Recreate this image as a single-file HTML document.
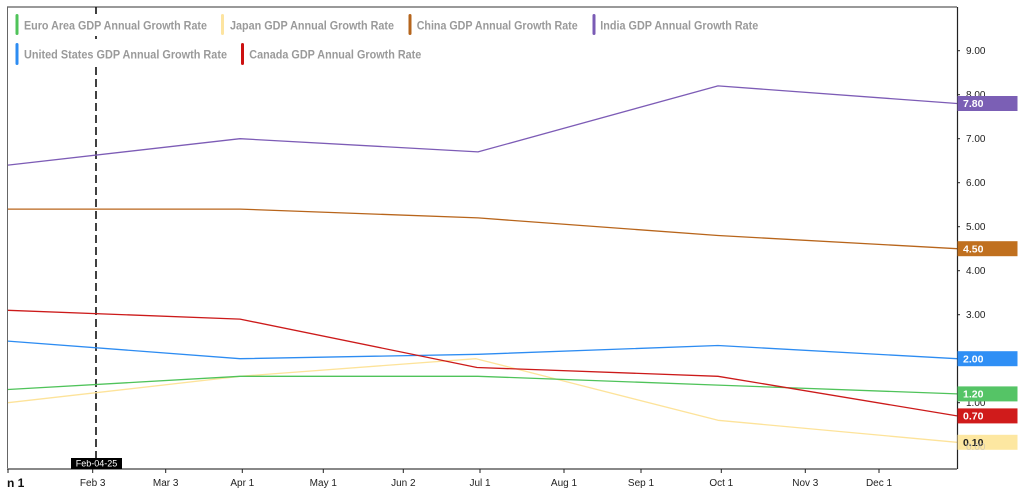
<!DOCTYPE html>
<html>
<head>
<meta charset="utf-8">
<style>
  html,body{margin:0;padding:0;background:#fff;}
  svg{display:block;font-family:"Liberation Sans",Arial,sans-serif;}
</style>
</head>
<body>
<svg width="1024" height="500" viewBox="0 0 1024 500" xmlns="http://www.w3.org/2000/svg">
  <rect x="0" y="0" width="1024" height="500" fill="#fff"/>

  <!-- frame -->
  <line x1="7" y1="7" x2="957" y2="7" stroke="#333" stroke-width="1"/>
  <line x1="7.5" y1="7" x2="7.5" y2="469" stroke="#666" stroke-width="1"/>

  <!-- dashed marker line -->
  <line x1="96" y1="7" x2="96" y2="468" stroke="#111" stroke-width="1.6" stroke-dasharray="8 4"/>

  <!-- legend backgrounds (cover dash) -->
  <rect x="14" y="14" width="196" height="22" fill="#fff"/>
  <rect x="14" y="43" width="216" height="22" fill="#fff"/>

  <!-- legend -->
  <g font-size="12" font-weight="bold" fill="#9a9a9a">
    <rect x="15.5" y="14" width="3" height="21" rx="1.5" fill="#4fc35a"/>
    <text x="24" y="29.3" textLength="183" lengthAdjust="spacingAndGlyphs">Euro Area GDP Annual Growth Rate</text>
    <rect x="221" y="14" width="3" height="21" rx="1.5" fill="#fde4a0"/>
    <text x="230" y="29.3" textLength="164" lengthAdjust="spacingAndGlyphs">Japan GDP Annual Growth Rate</text>
    <rect x="408.5" y="14" width="3" height="21" rx="1.5" fill="#b5651d"/>
    <text x="416.7" y="29.3" textLength="161" lengthAdjust="spacingAndGlyphs">China GDP Annual Growth Rate</text>
    <rect x="592.5" y="14" width="3" height="21" rx="1.5" fill="#7a5bb5"/>
    <text x="600.3" y="29.3" textLength="158" lengthAdjust="spacingAndGlyphs">India GDP Annual Growth Rate</text>
    <rect x="15.5" y="43" width="3" height="22" rx="1.5" fill="#2d8cf2"/>
    <text x="24" y="58.7" textLength="203" lengthAdjust="spacingAndGlyphs">United States GDP Annual Growth Rate</text>
    <rect x="241" y="43" width="3" height="22" rx="1.5" fill="#cc1111"/>
    <text x="249.3" y="58.7" textLength="172" lengthAdjust="spacingAndGlyphs">Canada GDP Annual Growth Rate</text>
  </g>

  <!-- series -->
  <g fill="none" stroke-width="1.3" stroke-linejoin="round">
    <polyline stroke="#7d5cb6" points="8,165.1 240,138.7 478,151.9 718,85.9 957,103.5"/>
    <polyline stroke="#b8651b" points="8,209.1 240,209.1 478,217.9 718,235.5 957,248.7"/>
    <polyline stroke="#2d8cf2" points="8,341.1 240,358.7 478,354.3 718,345.5 957,358.7"/>
    <polyline stroke="#fde39a" points="8,402.7 240,376.3 476,358.7 718,420.3 957,442.3"/>
    <polyline stroke="#4fc35a" points="8,389.5 240,376.3 478,376.3 718,385.1 957,393.9"/>
    <polyline stroke="#cc1a1a" points="8,310.3 240,319.1 477,367.5 718,376.3 957,415.9"/>
  </g>

  <!-- right axis -->
  <line x1="957.5" y1="7" x2="957.5" y2="469" stroke="#222" stroke-width="1.2"/>
  <g font-size="10" fill="#222">
    <line x1="957" y1="50.7" x2="960" y2="50.7" stroke="#222"/><text x="966" y="54.2">9.00</text>
    <line x1="957" y1="94.7" x2="960" y2="94.7" stroke="#222"/><text x="966" y="98.2">8.00</text>
    <line x1="957" y1="138.7" x2="960" y2="138.7" stroke="#222"/><text x="966" y="142.2">7.00</text>
    <line x1="957" y1="182.7" x2="960" y2="182.7" stroke="#222"/><text x="966" y="186.2">6.00</text>
    <line x1="957" y1="226.7" x2="960" y2="226.7" stroke="#222"/><text x="966" y="230.2">5.00</text>
    <line x1="957" y1="270.7" x2="960" y2="270.7" stroke="#222"/><text x="966" y="274.2">4.00</text>
    <line x1="957" y1="314.7" x2="960" y2="314.7" stroke="#222"/><text x="966" y="318.2">3.00</text>
    <line x1="957" y1="402.7" x2="960" y2="402.7" stroke="#222"/><text x="966" y="406.2">1.00</text>
  </g>

  <!-- value label boxes -->
  <g font-size="10.5" font-weight="bold" fill="#fff">
    <rect x="957.5" y="96" width="60" height="15" fill="#7b5fb5"/>
    <text x="963" y="107.2">7.80</text>
    <rect x="957.5" y="241.2" width="60" height="15" fill="#c0701f"/>
    <text x="963" y="252.4">4.50</text>
    <rect x="957.5" y="351.2" width="60" height="15" fill="#2f8ff5"/>
    <text x="963" y="362.4">2.00</text>
    <rect x="957.5" y="386.4" width="60" height="15" fill="#55c466"/>
    <text x="963" y="397.6">1.20</text>
    <rect x="957.5" y="408.4" width="60" height="15" fill="#d01b1b"/>
    <text x="963" y="419.6">0.70</text>
    <rect x="957.5" y="434.8" width="60" height="15" fill="#fde7a1"/>
    <text x="963" y="446" fill="#222">0.10</text>
  </g>
  <text x="966" y="450.2" font-size="10" fill="#bbb" opacity="0.6">0.00</text>

  <!-- bottom axis -->
  <line x1="7" y1="469" x2="957" y2="469" stroke="#888" stroke-width="2"/>
  <g stroke="#222" stroke-width="1">
    <line x1="8" y1="469" x2="8" y2="473"/>
    <line x1="92.7" y1="469" x2="92.7" y2="473"/>
    <line x1="165.7" y1="469" x2="165.7" y2="473"/>
    <line x1="242.3" y1="469" x2="242.3" y2="473"/>
    <line x1="323.3" y1="469" x2="323.3" y2="473"/>
    <line x1="403.3" y1="469" x2="403.3" y2="473"/>
    <line x1="480" y1="469" x2="480" y2="473"/>
    <line x1="564" y1="469" x2="564" y2="473"/>
    <line x1="641" y1="469" x2="641" y2="473"/>
    <line x1="721.3" y1="469" x2="721.3" y2="473"/>
    <line x1="805.3" y1="469" x2="805.3" y2="473"/>
    <line x1="879" y1="469" x2="879" y2="473"/>
  </g>
  <g font-size="10" fill="#222" text-anchor="middle">
    <text x="92.7" y="486">Feb 3</text>
    <text x="165.7" y="486">Mar 3</text>
    <text x="242.3" y="486">Apr 1</text>
    <text x="323.3" y="486">May 1</text>
    <text x="403.3" y="486">Jun 2</text>
    <text x="480" y="486">Jul 1</text>
    <text x="564" y="486">Aug 1</text>
    <text x="641" y="486">Sep 1</text>
    <text x="721.3" y="486">Oct 1</text>
    <text x="805.3" y="486">Nov 3</text>
    <text x="879" y="486">Dec 1</text>
  </g>
  <text x="7" y="487" font-size="12" font-weight="bold" fill="#111">n 1</text>

  <!-- marker label -->
  <rect x="71" y="458" width="51" height="11" fill="#000"/>
  <text x="96.5" y="466.5" font-size="9" fill="#fff" text-anchor="middle">Feb-04-25</text>
</svg>
</body>
</html>
